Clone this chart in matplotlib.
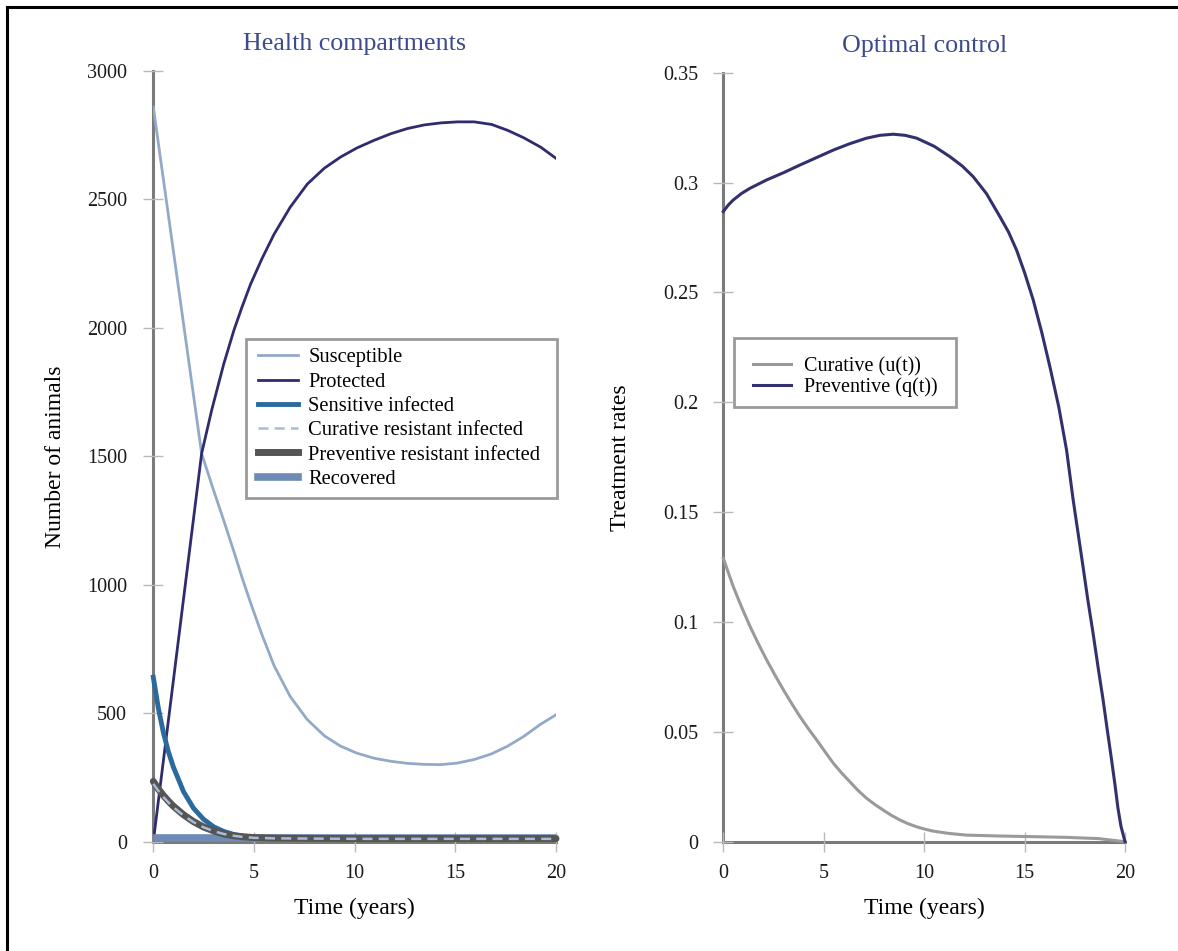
import matplotlib
matplotlib.use("Agg")
import matplotlib.pyplot as plt
from matplotlib.lines import Line2D
from matplotlib.patches import Rectangle

plt.rcParams['font.family'] = ['Liberation Serif', 'DejaVu Serif']

# ---- left panel data (health compartments) ----
t_sp = [0, 2.4, 2.9, 3.5, 4.0, 4.4, 4.83, 5.4, 6.0, 6.8, 7.65, 8.5, 9.3, 10.1, 10.96,
        11.8, 12.62, 13.45, 14.28, 15.1, 15.94, 16.8, 17.6, 18.4, 19.25, 20.0]
susceptible = [2860, 1511, 1390, 1250, 1130, 1030, 930, 805, 685, 565, 475, 412, 372, 345, 325,
               313, 305, 301, 300, 306, 320, 342, 372, 410, 458, 494]
protected = [0, 1511, 1680, 1860, 1990, 2080, 2170, 2270, 2365, 2470, 2560, 2622, 2665, 2700, 2730,
             2756, 2776, 2790, 2798, 2802, 2802, 2792, 2769, 2740, 2703, 2660]

t_inf = [0, 0.25, 0.5, 0.75, 1, 1.5, 2, 2.5, 3, 3.5, 4, 4.5, 5, 6, 8, 10, 15, 20]
sensitive_inf = [640, 520, 425, 350, 290, 195, 130, 87, 58, 40, 28, 21, 17, 15, 14, 14, 14, 14]
curative_res = [225, 198, 174, 153, 134, 102, 76, 56, 41, 30, 23, 18, 15, 13, 12, 11, 11, 11]
preventive_res = [235, 205, 180, 158, 138, 105, 78, 57, 42, 30, 23, 19, 16, 14, 13, 12, 12, 12]
t_rec = [0, 20]
recovered = [14, 14]

# ---- right panel data (optimal control) ----
t_cur = [0, 0.25, 0.5, 0.9, 1.33, 1.75, 2.16, 2.58, 3.0, 3.41, 3.82, 4.23, 4.65, 5.06, 5.48,
         5.89, 6.3, 6.7, 7.13, 7.55, 7.96, 8.37, 8.79, 9.2, 9.62, 10.0, 10.4, 11.2, 12.1,
         13.7, 15.4, 17.0, 18.7, 20]
curative_u = [0.129, 0.1225, 0.116, 0.107, 0.098, 0.090, 0.0827, 0.0757, 0.069, 0.0628, 0.0569,
              0.0515, 0.0463, 0.041, 0.0357, 0.0313, 0.0273, 0.0234, 0.0198, 0.0169, 0.0144,
              0.012, 0.0099, 0.0082, 0.0068, 0.0058, 0.0049, 0.0038, 0.0030, 0.0026, 0.0023,
              0.0020, 0.0014, 0.0]
t_prev = [0, 0.25, 0.5, 0.9, 1.33, 2.16, 3.0, 3.82, 4.65, 5.48, 6.3, 7.13, 7.8, 8.46, 9.05,
          9.63, 10.5, 11.28, 11.9, 12.44, 13.1, 13.77, 14.2, 14.6, 15.0, 15.43, 15.85, 16.26,
          16.7, 17.09, 17.42, 17.91, 18.15, 18.41, 18.65, 18.91, 19.1, 19.32, 19.5, 19.65,
          19.8, 20]
preventive_q = [0.2868, 0.2898, 0.2921, 0.295, 0.2974, 0.3012, 0.3045, 0.308, 0.3114, 0.3148,
                0.3177, 0.3202, 0.3215, 0.322, 0.3215, 0.3202, 0.3165, 0.3118, 0.3075, 0.3027,
                0.295, 0.2845, 0.2775, 0.2693, 0.259, 0.2466, 0.232, 0.2162, 0.198, 0.1783,
                0.1555, 0.1252, 0.110, 0.0949, 0.080, 0.0645, 0.052, 0.038, 0.026, 0.0152,
                0.007, 0.0]

x_ticks = [0, 5, 10, 15, 20]
left_yticks = [0, 500, 1000, 1500, 2000, 2500, 3000]
right_yticks = [0, 0.05, 0.1, 0.15, 0.2, 0.25, 0.3, 0.35]
right_yticklabels = ['0', '0.05', '0.1', '0.15', '0.2', '0.25', '0.3', '0.35']

W, H = 1178, 951
TITLE_COL = '#3d4a8c'


def box(x0, y0, x1, y1):
    # pixel box (top-left origin) -> figure fraction rect
    return [x0 / W, 1 - y1 / H, (x1 - x0) / W, (y1 - y0) / H]


def style_axes(ax, ypad):
    for s in ['top', 'right']:
        ax.spines[s].set_visible(False)
    for s in ['left', 'bottom']:
        ax.spines[s].set_color('#7a7a7a')
        ax.spines[s].set_linewidth(2.2)
        ax.spines[s].set_zorder(1.5)
    ax.tick_params(direction='inout', length=14, width=1, color='#b8b8b8',
                   labelsize=14.5, labelcolor='#1a1a1a')
    ax.tick_params(axis='x', pad=9)
    ax.tick_params(axis='y', pad=ypad)
    ax.set_xlim(0, 20)
    ax.set_xticks(x_ticks)


fig = plt.figure(figsize=(W / 100, H / 100), dpi=100)

# outer frame
fig.add_artist(Line2D([7 / W, 7 / W], [0, 1 - 7 / H], color='black', lw=2.2))
fig.add_artist(Line2D([7 / W, 1], [1 - 7 / H, 1 - 7 / H], color='black', lw=2.2))

# ---------------- left panel ----------------
ax1 = fig.add_axes(box(153.3, 71, 556, 841.7))
style_axes(ax1, 12)
ax1.set_ylim(0, 3000)
ax1.set_yticks(left_yticks)

ax1.plot(t_sp, susceptible, color='#93a9c8', lw=2.0, zorder=3)
ax1.plot(t_sp, protected, color='#2f2b6e', lw=2.0, zorder=3)
ax1.plot(t_rec, recovered, color='#6e8bb5', lw=5.5, zorder=3, clip_on=False,
         solid_capstyle='butt')
ax1.plot(t_inf, sensitive_inf, color='#2b6a9c', lw=3.5, zorder=3, clip_on=False)
ax1.plot(t_inf, preventive_res, color='#555555', lw=5, zorder=3, clip_on=False,
         solid_capstyle='round')
ax1.plot(t_inf, curative_res, color='#a9bcd6', lw=1.8, dashes=(4, 2.5), zorder=4,
         clip_on=False)

ax1.set_title('Health compartments', fontsize=18.7, color=TITLE_COL, pad=15)
ax1.set_xlabel('Time (years)', fontsize=17)
ax1.set_ylabel('Number of animals', fontsize=17)
ax1.xaxis.set_label_coords(0.5, -0.087)
ax1.xaxis.label.set_va('center')
ax1.yaxis.set_label_coords(-0.244, 0.5)
ax1.yaxis.label.set_va('center')

h1 = [Line2D([], [], color='#93a9c8', lw=2.0),
      Line2D([], [], color='#2f2b6e', lw=2.0),
      Line2D([], [], color='#2b6a9c', lw=3.5),
      Line2D([], [], color='#a9bcd6', lw=1.8, dashes=(4, 2.5)),
      Line2D([], [], color='#555555', lw=5),
      Line2D([], [], color='#6e8bb5', lw=5.5)]
l1 = ['Susceptible', 'Protected', 'Sensitive infected', 'Curative resistant infected',
      'Preventive resistant infected', 'Recovered']
ax1.add_patch(Rectangle((246 / W, 1 - 498 / H), 311 / W, 159 / H, transform=fig.transFigure,
                        facecolor='white', edgecolor='#9a9a9a', lw=2, clip_on=False, zorder=4.5))
leg1 = ax1.legend(h1, l1, loc='upper left', bbox_to_anchor=(258 / W, 1 - 348 / H),
                  bbox_transform=fig.transFigure, frameon=False, fontsize=14.8,
                  handlelength=1.95, handletextpad=0.5, labelspacing=0.24,
                  borderpad=0, borderaxespad=0)
leg1.set_zorder(5)

# ---------------- right panel ----------------
ax2 = fig.add_axes(box(723.3, 72.7, 1125, 841.7))
style_axes(ax2, 11)
ax2.set_ylim(0, 0.35)
ax2.set_yticks(right_yticks)
ax2.set_yticklabels(right_yticklabels)

ax2.plot(t_cur, curative_u, color='#9a9a9a', lw=2.2, zorder=3, clip_on=False)
ax2.plot(t_prev, preventive_q, color='#33306e', lw=2.2, zorder=3, clip_on=False)

ax2.set_title('Optimal control', fontsize=18.7, color=TITLE_COL, pad=15)
ax2.set_xlabel('Time (years)', fontsize=17)
ax2.set_ylabel('Treatment rates', fontsize=17)
ax2.xaxis.set_label_coords(0.5, -0.087)
ax2.xaxis.label.set_va('center')
ax2.yaxis.set_label_coords(-0.255, 0.5)
ax2.yaxis.label.set_va('center')

h2 = [Line2D([], [], color='#9a9a9a', lw=2.2),
      Line2D([], [], color='#33306e', lw=2.2)]
l2 = ['Curative (u(t))', 'Preventive (q(t))']
ax2.add_patch(Rectangle((734.3 / W, 1 - 406.7 / H), 221.7 / W, 68.4 / H,
                        transform=fig.transFigure, facecolor='white', edgecolor='#9a9a9a',
                        lw=2, clip_on=False, zorder=4.5))
leg2 = ax2.legend(h2, l2, loc='upper left', bbox_to_anchor=(752.7 / W, 1 - 357 / H),
                  bbox_transform=fig.transFigure, frameon=False, fontsize=14.5,
                  handlelength=1.9, handletextpad=0.66, labelspacing=0.05,
                  borderpad=0, borderaxespad=0)
leg2.set_zorder(5)

fig.savefig('out.png', dpi=100)
